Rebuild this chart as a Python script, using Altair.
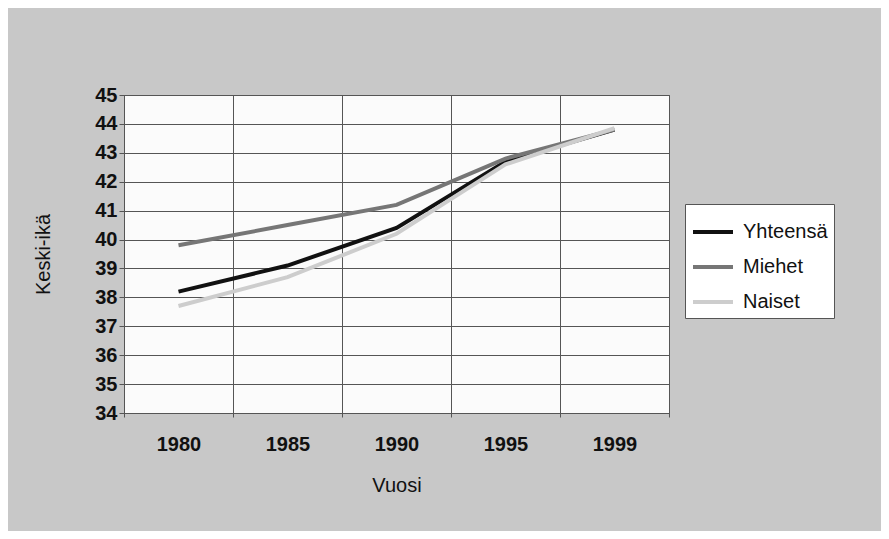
import altair as alt
import pandas as pd

years = ["1980", "1985", "1990", "1995", "1999"]
series_names = ["Yhteensä", "Miehet", "Naiset"]
yhteensa = [38.2, 39.1, 40.4, 42.7, 43.8]
miehet = [39.8, 40.5, 41.2, 42.8, 43.8]
naiset = [37.7, 38.7, 40.2, 42.6, 43.85]
series_colors = ["#111111", "#767676", "#cdcdcd"]
y_ticks = list(range(34, 46))

rows = []
for name, vals in zip(series_names, [yhteensa, miehet, naiset]):
    for i, (yr, v) in enumerate(zip(years, vals)):
        rows.append({"Vuosi": yr, "Keski-ikä": v, "Sarja": name,
                     "order": series_names.index(name)})
df = pd.DataFrame(rows)

FONT = "Liberation Sans"

chart = alt.Chart(df).mark_line(strokeWidth=4).encode(
    x=alt.X("Vuosi:N", sort=years,
            scale=alt.Scale(type="band", paddingInner=0, paddingOuter=0),
            axis=alt.Axis(title="Vuosi", labelAngle=0, tickBand="extent",
                          grid=True, gridColor="#555555", gridWidth=1,
                          domainColor="#555555", tickColor="#555555",
                          tickSize=4, labelPadding=17,
                          labelFontSize=20, labelFont=FONT, labelFontWeight="bold",
                          labelColor="#111111",
                          titleFontSize=20, titleFont=FONT, titleFontWeight="normal",
                          titleColor="#111111", titleY=72, titleBaseline="middle")),
    y=alt.Y("Keski-ikä:Q",
            scale=alt.Scale(domain=[34, 45], nice=False, zero=False),
            axis=alt.Axis(title="Keski-ikä", values=y_ticks, grid=True,
                          gridColor="#555555", gridWidth=1,
                          domainColor="#555555", tickColor="#555555",
                          tickSize=5, labelPadding=2,
                          labelFontSize=20, labelFont=FONT, labelFontWeight="bold",
                          labelColor="#111111", labelBaseline="middle",
                          titleFontSize=20, titleFont=FONT, titleFontWeight="normal",
                          titleColor="#111111", titleX=-81, titleY=159,
                          titleBaseline="middle", titleAngle=-90)),
    color=alt.Color("Sarja:N",
                    scale=alt.Scale(domain=series_names, range=series_colors),
                    legend=alt.Legend(title=None, orient="none",
                                      legendX=561, legendY=109,
                                      symbolType="stroke", symbolSize=1600,
                                      symbolStrokeWidth=4,
                                      labelFontSize=20, labelFont=FONT,
                                      labelColor="#111111", labelOffset=8,
                                      rowPadding=3,
                                      padding=6, fillColor="#ffffff",
                                      strokeColor="#555555")),
    order=alt.Order("order:Q"),
    detail="Sarja:N",
).properties(
    width=545, height=318,
    autosize=alt.AutoSizeParams(type="none"),
    padding={"left": 116, "top": 87, "right": 212, "bottom": 118},
    background="#c8c8c8",
).configure_view(
    fill="#fbfbfb", stroke="#555555", strokeWidth=1
)

chart.save("out.html", embed_options={"renderer": "svg", "actions": False})
